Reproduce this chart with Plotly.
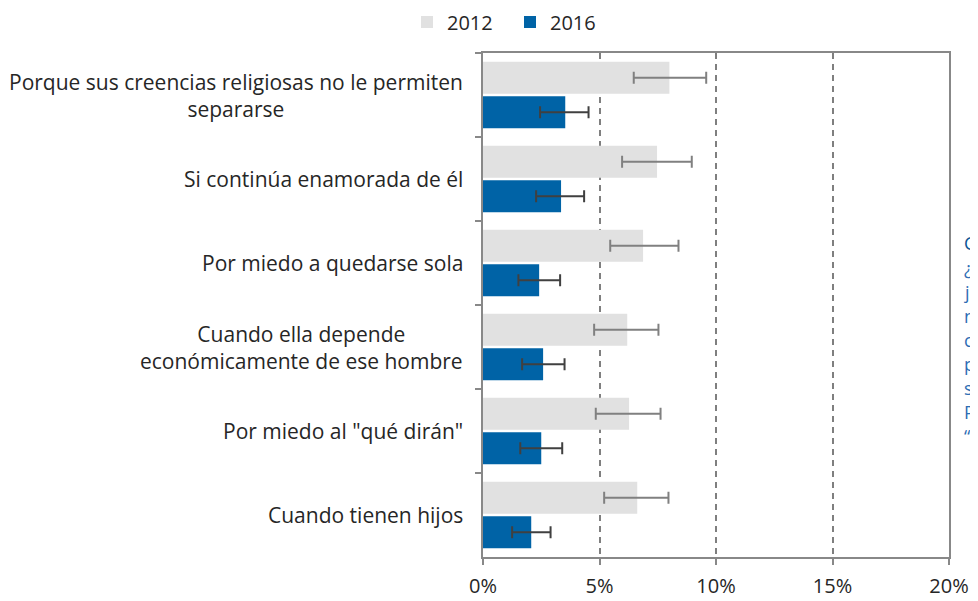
import plotly.graph_objects as go

categories = [
    "Porque sus creencias religiosas no le permiten<br>separarse",
    "Si continúa enamorada de él",
    "Por miedo a quedarse sola",
    "Cuando ella depende<br>económicamente de ese hombre",
    "Por miedo al \"qué dirán\"",
    "Cuando tienen hijos",
]
cat_keys = ["c1", "c2", "c3", "c4", "c5", "c6"]

v2012 = [8.0, 7.47, 6.87, 6.19, 6.27, 6.62]
lo2012 = [6.47, 5.97, 5.46, 4.77, 4.84, 5.20]
hi2012 = [9.58, 8.96, 8.39, 7.53, 7.62, 7.96]

v2016 = [3.53, 3.35, 2.41, 2.58, 2.50, 2.07]
lo2016 = [2.45, 2.28, 1.52, 1.68, 1.60, 1.25]
hi2016 = [4.53, 4.34, 3.31, 3.50, 3.40, 2.90]

x_ticks = [0, 5, 10, 15, 20]
x_ticklabels = ["0%", "5%", "10%", "15%", "20%"]

# text box at the right edge, cut off by the page in the reference
side_title = "G"
side_lines = ["¿", "j", "n", "c", "p", "s", "P", "“"]

FONT = "Open Sans"
TXT = "#262626"
# page has an 8px body margin: figure is drawn from (8, 8)
W, H = 970, 593
ML, MR, MT, MB = 475, 29, 45, 44
PLOT_H = H - MT - MB
PAGE_BOTTOM = 557  # page y of plot bottom


def page_y_to_paper(py):
    return (PAGE_BOTTOM - py) / PLOT_H


def page_x_to_paper(px):
    return (px - 8 - ML) / (W - ML - MR)


fig = go.Figure()
fig.add_trace(go.Bar(
    y=cat_keys, x=v2012, orientation="h", name="2012",
    marker=dict(color="#E1E1E1", line=dict(width=0)),
    error_x=dict(type="data", symmetric=False,
                 array=[h - v for h, v in zip(hi2012, v2012)],
                 arrayminus=[v - l for l, v in zip(lo2012, v2012)],
                 color="#808080", thickness=2, width=6),
))
fig.add_trace(go.Bar(
    y=cat_keys, x=v2016, orientation="h", name="2016",
    marker=dict(color="#0063A6", line=dict(width=0)),
    error_x=dict(type="data", symmetric=False,
                 array=[h - v for h, v in zip(hi2016, v2016)],
                 arrayminus=[v - l for l, v in zip(lo2016, v2016)],
                 color="#404040", thickness=2, width=6),
))

annotations = []
for k, label in zip(cat_keys, categories):
    annotations.append(dict(
        x=0, xref="paper", y=k, yref="y", text=label, showarrow=False,
        xanchor="right", yanchor="middle", align="center", xshift=-18,
        font=dict(family=FONT, size=21, color=TXT),
    ))

SIDE_X = 962
annotations.append(dict(
    x=page_x_to_paper(SIDE_X), xref="paper", y=page_y_to_paper(243), yref="paper",
    text=side_title, showarrow=False, xanchor="left", yanchor="middle",
    font=dict(family=FONT, size=18, color="#0B5394"),
))
for i, line in enumerate(side_lines):
    annotations.append(dict(
        x=page_x_to_paper(SIDE_X), xref="paper", y=page_y_to_paper(268 + 24 * i), yref="paper",
        text=line, showarrow=False, xanchor="left", yanchor="middle",
        font=dict(family=FONT, size=18, color="#2E6DB4"),
    ))

fig.update_layout(
    width=W, height=H,
    margin=dict(l=ML, r=MR, t=MT, b=MB, pad=0, autoexpand=False),
    plot_bgcolor="white", paper_bgcolor="white",
    barmode="group", bargap=0.18, bargroupgap=0.07,
    font=dict(family=FONT, size=20, color=TXT),
    showlegend=True,
    legend=dict(orientation="h", x=page_x_to_paper(407), xanchor="left",
                y=page_y_to_paper(22), yanchor="middle",
                font=dict(family=FONT, size=20, color=TXT), traceorder="normal",
                itemwidth=30, entrywidth=58, entrywidthmode="pixels",
                bgcolor="rgba(0,0,0,0)"),
    annotations=annotations,
    xaxis=dict(range=[0, 20], tickvals=x_ticks, ticktext=x_ticklabels,
               showgrid=True, gridcolor="#7F7F7F", griddash="6px,5px", gridwidth=2,
               zeroline=False, showline=True, linecolor="#888888", linewidth=2, mirror=True,
               ticks="outside", ticklen=6, tickcolor="#888888", tickwidth=2,
               ticklabelstandoff=4, automargin=False,
               tickfont=dict(family=FONT, size=20, color=TXT), fixedrange=True),
    yaxis=dict(autorange="reversed", categoryorder="array", categoryarray=cat_keys,
               showticklabels=False, showgrid=False, zeroline=False,
               showline=True, linecolor="#888888", linewidth=2, mirror=True,
               ticks="outside", ticklen=6, tickcolor="#888888", tickwidth=2,
               tickson="boundaries", automargin=False, fixedrange=True),
)

fig.write_html("out.html")
